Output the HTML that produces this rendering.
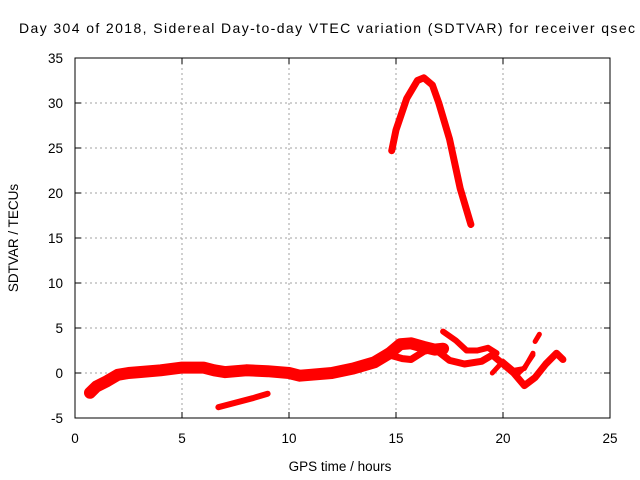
<!DOCTYPE html>
<html><head><meta charset="utf-8"><style>
body{margin:0;background:#fff;overflow:hidden}
svg{display:block;font-family:"Liberation Sans",sans-serif}
</style></head><body>
<svg width="640" height="480">
<g id="grid"></g>
<g id="series"></g>
<g id="axes"></g>
<text x="19" y="33" font-size="14" textLength="616" lengthAdjust="spacing">Day 304 of 2018, Sidereal Day-to-day VTEC variation (SDTVAR) for receiver qsec</text>
<text x="340" y="471" font-size="13.5" text-anchor="middle">GPS time / hours</text>
<text transform="translate(18,238) rotate(-90)" font-size="13.5" text-anchor="middle">SDTVAR / TECUs</text>
</svg>
<script>
const xTicks=[0,5,10,15,20,25];
const yTicks=[-5,0,5,10,15,20,25,30,35];
const segMain=[[0.7,-2.2],[1,-1.5],[1.5,-0.9],[2,-0.2],[2.5,0],[3,0.1],[4,0.3],[5,0.6],[6,0.6],[6.5,0.3],[7,0.1],[8,0.3],[9,0.2],[10,0],[10.5,-0.3],[11,-0.2],[12,0],[13,0.5],[14,1.2],[14.7,2.2],[15.2,3.2],[15.7,3.3],[16.3,2.9],[16.8,2.6],[17.2,2.7]];
const segBranch=[[14.7,2],[15.3,1.6],[15.7,1.5],[16.3,2.4],[16.8,2.7],[17.5,1.4],[18.2,1],[19,1.3],[19.5,2],[20,1],[20.5,0],[21,-1.4],[21.5,-0.5],[22,1],[22.5,2.2],[22.8,1.5]];
const segUpper=[[17.2,4.6],[17.8,3.6],[18.3,2.5],[18.8,2.5],[19.3,2.8],[19.7,2.2]];
const segLate=[[19.5,0],[20,1.3],[20.5,0.3],[21,0.5],[21.4,2.2]];
const segLate2=[[20.6,-0.3],[21,0.6],[21.4,2]];
const segSpike=[[21.5,3.5],[21.7,4.3]];
const segLow=[[6.7,-3.8],[7.5,-3.3],[8.3,-2.8],[9,-2.3]];
const segPeak=[[14.8,24.7],[15,27],[15.5,30.5],[16,32.5],[16.3,32.8],[16.7,32],[17,30],[17.5,26],[18,20.5],[18.5,16.5]];
const X0=75,X1=610,Y0=418,Y1=58;
const sx=h=>X0+(h-0)/(25-0)*(X1-X0);
const sy=v=>Y0-(v+5)/40*(Y0-Y1);
const NS="http://www.w3.org/2000/svg";
function mk(tag,parent,attrs){const e=document.createElementNS(NS,tag);for(const k in attrs)e.setAttribute(k,attrs[k]);parent.appendChild(e);return e;}
const grid=document.getElementById('grid'),axes=document.getElementById('axes'),series=document.getElementById('series');
xTicks.forEach(t=>{
 if(t>0&&t<25){const l=mk('line',grid,{x1:sx(t),x2:sx(t),y1:Y1,y2:Y0,stroke:'#a0a0a0','stroke-dasharray':'2,3'});
 }
 mk('line',axes,{x1:sx(t),x2:sx(t),y1:Y0,y2:Y0-6,stroke:'#000'});
 mk('line',axes,{x1:sx(t),x2:sx(t),y1:Y1,y2:Y1+6,stroke:'#000'});
 const tx=mk('text',axes,{x:sx(t),y:443,'font-size':13.5,'text-anchor':'middle'});tx.textContent=t;
 
});
yTicks.forEach(t=>{
 if(t>-5&&t<35){const l=mk('line',grid,{x1:X0,x2:X1,y1:sy(t),y2:sy(t),stroke:'#a0a0a0','stroke-dasharray':'2,3'});
 }
 mk('line',axes,{x1:X0,x2:X0+6,y1:sy(t),y2:sy(t),stroke:'#000'});
 mk('line',axes,{x1:X1,x2:X1-6,y1:sy(t),y2:sy(t),stroke:'#000'});
 const tx=mk('text',axes,{x:63,y:sy(t)+5,'font-size':13.5,'text-anchor':'end'});tx.textContent=t;
 
});
const fr=mk('rect',axes,{x:X0,y:Y1,width:X1-X0,height:Y0-Y1,fill:'none',stroke:'#000'});

function seg(pts,w,name){
 const p=mk('polyline',series,{points:pts.map(d=>sx(d[0])+','+sy(d[1])).join(' '),fill:'none',stroke:'#ff0000','stroke-width':w,'stroke-linejoin':'round','stroke-linecap':'round'});
 
}
seg(segMain,12,'sdtvar-main-band');
seg(segBranch,7,'sdtvar-branch');
seg(segUpper,6,'sdtvar-upper-branch');
seg(segLate,5,'sdtvar-late-branch');
seg(segLate2,5,'sdtvar-late-branch-2');
seg(segSpike,5,'sdtvar-spike');
seg(segLow,6,'sdtvar-low-band');
seg(segPeak,7,'sdtvar-peak');
</script>
</body></html>
